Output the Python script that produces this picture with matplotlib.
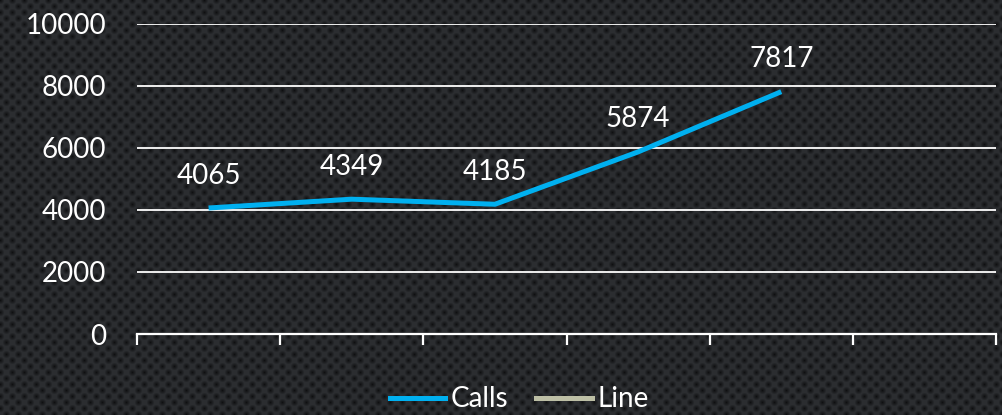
import numpy as np
import matplotlib.pyplot as plt
from matplotlib.lines import Line2D

categories = ["", "", "", "", "", ""]
calls = [4065, 4349, 4185, 5874, 7817]
line_series = []
y_ticks = [0, 2000, 4000, 6000, 8000, 10000]

W, H = 1002, 415
fig = plt.figure(figsize=(W / 100, H / 100), dpi=100)

# dotted dark background texture
yy, xx = np.mgrid[0:H, 0:W].astype(float)
sp = 12.0
d1 = np.hypot((xx % sp) - sp / 2, (yy % sp) - sp / 2)
d2 = np.hypot(((xx + sp / 2) % sp) - sp / 2, ((yy + sp / 2) % sp) - sp / 2)
d = np.minimum(d1, d2)
shade = np.clip(d / 4.0, 0, 1)
base = np.array([0.17, 0.178, 0.19])
dark = np.array([0.06, 0.065, 0.07])
tex = dark + (base - dark) * shade[..., None]
fig.figimage(tex, xo=0, yo=0, origin="upper", zorder=-5)

ax = fig.add_axes([137 / W, (H - 334) / H, (996 - 137) / W, (334 - 24) / H])
ax.patch.set_alpha(0)

x = np.arange(len(calls)) + 0.5
ax.plot(x, calls, color="#00b0f0", lw=3.6, solid_capstyle="butt", zorder=3)
for xi, v in zip(x, calls):
    ax.annotate(str(v), (xi, v), xytext=(0, 14), textcoords="offset points",
                ha="center", va="bottom", color="white", fontsize=20,
                family="Lato", zorder=4)

ax.set_xlim(0, len(categories))
ax.set_ylim(0, 10000)
ax.set_yticks(y_ticks)
ax.set_xticks(np.arange(len(categories) + 1))
ax.set_xticklabels([])
ax.grid(axis="y", color="white", lw=1.3)
ax.set_axisbelow(True)
for s in ["left", "right", "top"]:
    ax.spines[s].set_visible(False)
ax.spines["bottom"].set_color("white")
ax.spines["bottom"].set_linewidth(1.6)
ax.tick_params(axis="x", colors="white", length=8, width=1.6, direction="out")
ax.tick_params(axis="y", colors="white", length=0, pad=22, labelsize=20)
for lab in ax.get_yticklabels():
    lab.set_family("Lato")

handles = [Line2D([], [], color="#00b0f0", lw=3.6),
           Line2D([], [], color="#bdbfa5", lw=3.6)]
fig.legend(handles, ["Calls", "Line"], loc="center", bbox_to_anchor=(0.518, 0.038),
           ncol=2, frameon=False, handlelength=2.0, handletextpad=0.2,
           columnspacing=1.0, prop={"family": "Lato", "size": 20}, labelcolor="white")

fig.savefig("out.png", dpi=100)
